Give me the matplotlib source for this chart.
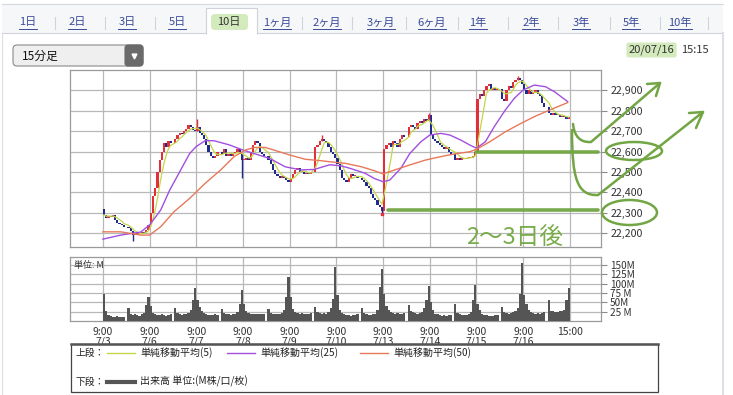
import matplotlib
matplotlib.use("Agg")
import matplotlib.pyplot as plt
import numpy as np
import pandas as pd
from matplotlib.patches import Rectangle, FancyBboxPatch, Ellipse, PathPatch, Polygon
from matplotlib.path import Path

plt.rcParams["font.family"] = ["Noto Sans CJK JP", "DejaVu Sans"]

W, H = 733, 395

# ---- data ----
DAYS = ["7/3", "7/6", "7/7", "7/8", "7/9", "7/10", "7/13", "7/14", "7/15", "7/16"]

# 15-minute closes, 20 bars per day (10 morning, 10 afternoon)
CLOSES_BY_DAY = [
    [22290, 22275, 22285, 22280, 22290, 22265, 22250, 22245, 22240, 22230,
     22225, 22210, 22190, 22195, 22200, 22195, 22205, 22200, 22215, 22240],
    [22300, 22380, 22420, 22500, 22560, 22600, 22640, 22620, 22650, 22640,
     22660, 22680, 22690, 22685, 22700, 22710, 22730, 22720, 22705, 22700],
    [22720, 22690, 22680, 22660, 22630, 22600, 22580, 22570, 22580, 22600,
     22590, 22610, 22580, 22590, 22580, 22595, 22600, 22610, 22590, 22560],
    [22560, 22570, 22560, 22600, 22630, 22650, 22640, 22600, 22590, 22580,
     22560, 22540, 22510, 22490, 22480, 22470, 22480, 22470, 22460, 22450],
    [22470, 22490, 22510, 22520, 22500, 22500, 22490, 22495, 22490, 22500,
     22620, 22630, 22650, 22660, 22650, 22640, 22620, 22600, 22590, 22570],
    [22540, 22510, 22470, 22460, 22450, 22470, 22490, 22480, 22480, 22470,
     22460, 22450, 22430, 22420, 22390, 22370, 22360, 22340, 22330, 22310],
    [22610, 22630, 22640, 22620, 22650, 22640, 22620, 22660, 22680, 22670,
     22720, 22730, 22720, 22710, 22740, 22750, 22740, 22760, 22750, 22780],
    [22680, 22660, 22650, 22640, 22630, 22620, 22610, 22620, 22600, 22590,
     22560, 22570, 22560, 22570, 22565, 22570, 22575, 22570, 22580, 22600],
    [22860, 22880, 22870, 22900, 22920, 22930, 22900, 22910, 22900, 22905,
     22860, 22850, 22900, 22920, 22910, 22940, 22950, 22960, 22950, 22930],
    [22900, 22880, 22900, 22880, 22890, 22900, 22880, 22870, 22840, 22820,
     22790, 22780, 22790, 22780, 22780, 22770, 22775, 22770, 22760, 22770],
]
FIRST_OPEN = 22320

# volume in millions, same bar layout
VOLUME_BY_DAY = [
    [73, 26, 15, 13, 12, 12, 13, 12, 11, 12, 36, 20, 15, 18, 16, 14, 18, 22, 42, 64],
    [40, 22, 18, 16, 15, 20, 15, 14, 16, 18, 36, 22, 18, 17, 18, 20, 22, 30, 55, 89],
    [55, 38, 28, 22, 18, 16, 15, 16, 18, 17, 33, 22, 20, 18, 17, 18, 20, 25, 46, 82],
    [46, 28, 22, 20, 18, 20, 19, 18, 20, 18, 33, 22, 20, 18, 18, 20, 22, 30, 64, 118],
    [64, 33, 25, 22, 20, 22, 20, 18, 20, 22, 38, 25, 22, 20, 22, 20, 25, 35, 60, 145],
    [70, 30, 22, 18, 15, 15, 14, 16, 15, 18, 36, 22, 18, 17, 16, 18, 20, 30, 90, 139],
    [73, 40, 30, 25, 22, 20, 22, 18, 20, 22, 42, 28, 25, 22, 20, 22, 25, 35, 55, 95],
    [50, 30, 20, 18, 15, 14, 15, 14, 16, 15, 46, 22, 18, 16, 15, 15, 18, 25, 55, 97],
    [45, 30, 20, 16, 15, 14, 13, 14, 15, 16, 38, 25, 22, 20, 22, 25, 28, 35, 73, 155],
    [70, 46, 30, 25, 22, 20, 22, 20, 22, 25, 57, 28, 26, 24, 25, 26, 28, 30, 55, 89],
]

# visible wicks (bar number, wick end price)
WICK_BAR = [12, 40, 59, 93, 119, 139, 177]
WICK_TO = [22160, 22760, 22470, 22680, 22300, 22790, 22970]
LOW_MARK_BAR = 119
LOW_MARK_VAL = 22293

# moving averages (slot position, price)
MA25_POS = [0, 8, 17, 21, 26, 30, 35, 39, 42, 46, 50, 57, 63, 68, 75, 82, 89, 95,
            102, 107, 111, 118, 122, 126, 129, 134, 138, 143, 147, 152, 156, 161,
            165, 168, 172, 176, 181, 185, 189, 194, 199, 203, 209]
MA25_VAL = [22170, 22190, 22205, 22240, 22313, 22410, 22510, 22590, 22625, 22653,
            22653, 22632, 22607, 22590, 22566, 22525, 22510, 22512, 22535, 22530,
            22518, 22493, 22468, 22452, 22460, 22518, 22590, 22648, 22681, 22689,
            22681, 22656, 22632, 22616, 22648, 22722, 22804, 22861, 22902, 22926,
            22918, 22894, 22845]
MA50_POS = [0, 8, 17, 21, 26, 32, 39, 46, 53, 59, 64, 68, 73, 77, 84, 91, 98, 102,
            109, 116, 122, 126, 131, 138, 145, 152, 158, 165, 168, 174, 181, 188,
            194, 201, 209]
MA50_VAL = [22206, 22206, 22190, 22190, 22231, 22305, 22370, 22444, 22510, 22575,
            22607, 22620, 22620, 22607, 22583, 22562, 22555, 22550, 22542, 22526,
            22506, 22490, 22509, 22534, 22558, 22575, 22588, 22599, 22611, 22648,
            22697, 22738, 22771, 22804, 22840]

PRICE_TICKS = [22200, 22300, 22400, 22500, 22600, 22700, 22800, 22900]
VOL_TICKS = [25, 50, 75, 100, 125, 150]
VOL_LABELS = ["25 M", "50M", "75 M", "100M", "125M", "150M"]

TABS = ["1日", "2日", "3日", "5日", "10日", "1ヶ月", "2ヶ月", "3ヶ月", "6ヶ月",
        "1年", "2年", "3年", "5年", "10年"]
TAB_X = [28, 77, 127, 177, 229, 277, 327, 381, 432, 478, 531, 581, 631, 680]
TAB_SEP_X = [55, 105, 155, 302, 352, 406, 458, 508, 558, 610, 660, 708]
SELECTED_TAB = "10日"

UP = "#e2303a"
DOWN = "#1f2b8e"
MA5_C = "#c4d64a"
MA25_C = "#a24fe0"
MA50_C = "#e8785a"
VOL_C = "#555555"
GRID_C = "#b8b8b8"
ANNOT_C = "#72a544"

SLOTS_PER_DAY = 21  # 20 bars + lunch gap

closes = np.array(sum(CLOSES_BY_DAY, []), dtype=float)
opens = np.concatenate([[FIRST_OPEN], closes[:-1]])
volumes = np.array(sum(VOLUME_BY_DAY, []), dtype=float)
pos = np.array([SLOTS_PER_DAY * d + j + (1 if j >= 10 else 0) + 0.5
                for d in range(len(DAYS)) for j in range(20)])
day_x = [SLOTS_PER_DAY * d for d in range(len(DAYS) + 1)]
XLIM = (-14.8, 224)


def px_axes(fig, left, top, right, bottom, **kw):
    return fig.add_axes([left / W, 1 - bottom / H, (right - left) / W, (bottom - top) / H], **kw)


fig = plt.figure(figsize=(W / 100, H / 100), dpi=100)
fig.patch.set_facecolor("white")

# ---- background (tabs, panel) ----
bg = fig.add_axes([0, 0, 1, 1], zorder=0)
bg.set_xlim(0, W)
bg.set_ylim(H, 0)
bg.axis("off")
bg.add_patch(Rectangle((2, 4), 721, 29, fc="#f6f7f9", ec="none"))
bg.plot([2, 723], [4, 4], color="#d5d8dd", lw=0.8)
bg.plot([2, 206], [33, 33], color="#cfd2d8", lw=0.8)
bg.plot([257, 723], [33, 33], color="#cfd2d8", lw=0.8)
bg.plot([2, 2], [33, H], color="#dcdfe3", lw=0.8)
bg.plot([723, 723], [33, H], color="#dcdfe3", lw=1.5)
bg.add_patch(Polygon([(206, 33.5), (206, 8), (257, 8), (257, 33.5)], closed=False,
                     fc="white", ec="#cfd2d8", lw=0.8))
bg.add_patch(FancyBboxPatch((211, 14), 37, 16, boxstyle="round,pad=0,rounding_size=4",
                            fc="#d3eabd", ec="none"))
for sx in TAB_SEP_X:
    bg.plot([sx, sx], [17, 29], color="#d0d3d8", lw=0.8)

renderer = fig.canvas.get_renderer()
for label, tx in zip(TABS, TAB_X):
    if label == SELECTED_TAB:
        bg.text(tx, 22.5, label, ha="center", va="center", fontsize=8, color="#333333")
        continue
    t = bg.text(tx, 22.5, label, ha="center", va="center", fontsize=8, color="#3a4a9a")
    bb = t.get_window_extent(renderer)
    bg.plot([bb.x0, bb.x1], [28.5, 28.5], color="#3a4a9a", lw=0.7)

# dropdown
bg.add_patch(FancyBboxPatch((13, 45), 130, 21, boxstyle="round,pad=0,rounding_size=4",
                            fc="#efefef", ec="#8a8a8a", lw=0.8))
bg.add_patch(FancyBboxPatch((125, 45), 18, 21, boxstyle="round,pad=0,rounding_size=3",
                            fc="#6a6a6a", ec="#6a6a6a", lw=0.8))
bg.plot([134], [55.5], marker="v", color="white", ms=3.5)
bg.text(22, 56, "15分足", ha="left", va="center", fontsize=8.5, color="#111111")

# date stamp
bg.text(651.5, 50, "20/07/16", ha="center", va="center", fontsize=8, color="#333333",
        bbox=dict(boxstyle="round,pad=0.2", fc="#d3eabd", ec="none"))
bg.text(681, 50, "15:15", ha="left", va="center", fontsize=8, color="#333333")

# ---- price panel ----
ax = px_axes(fig, 70, 70, 601, 246.5, zorder=2)
ax.set_xlim(*XLIM)
ax.set_ylim(22134, 23000)
ax.set_xticks(day_x)
ax.tick_params(axis="x", length=0, labelbottom=False)
ax.set_yticks(PRICE_TICKS)
ax.set_yticklabels([f"{v:,}" for v in PRICE_TICKS])
ax.yaxis.tick_right()
ax.tick_params(axis="y", length=4.5, width=0.8, color="#8a8a8a", labelsize=7.7,
               labelcolor="#333333", pad=2.5)
ax.grid(True, color=GRID_C, lw=0.9)
ax.set_axisbelow(True)
for s in ax.spines.values():
    s.set_color("#9a9a9a")
    s.set_linewidth(0.9)

up = closes >= opens
colors = np.where(up, UP, DOWN)
bottoms = np.minimum(opens, closes)
heights = np.maximum(np.abs(closes - opens), 5)
ax.bar(pos, heights, bottom=bottoms, width=1.0, color=colors, linewidth=0, zorder=3)
for b, v in zip(WICK_BAR, WICK_TO):
    lo, hi = sorted([v, closes[b] if abs(v - closes[b]) > abs(v - opens[b]) else opens[b]])
    ax.vlines(pos[b], lo, hi, color=colors[b], lw=1.0, zorder=3)
ax.scatter([pos[LOW_MARK_BAR]], [LOW_MARK_VAL], marker="s", s=4, color=UP, zorder=4)

ma5 = pd.Series(closes).rolling(5, min_periods=1).mean()
ax.plot(pos, ma5, color=MA5_C, lw=0.9, zorder=4)
ax.plot(MA25_POS, MA25_VAL, color=MA25_C, lw=1.0, zorder=4)
ax.plot(MA50_POS, MA50_VAL, color=MA50_C, lw=1.0, zorder=4)

# hand-drawn support lines
ax.plot([167.7, 222.6], [22600, 22600], color=ANNOT_C, lw=2.6, zorder=6,
        clip_on=False, solid_capstyle="round", alpha=0.95)
ax.plot([128.2, 222.6], [22312, 22312], color=ANNOT_C, lw=2.6, zorder=6,
        clip_on=False, solid_capstyle="round", alpha=0.95)

# ---- volume panel ----
vx = px_axes(fig, 70, 257, 601, 321, zorder=2)
vx.set_xlim(*XLIM)
vx.set_ylim(0, 171.5)
vx.bar(pos, volumes, width=1.0, color=VOL_C, linewidth=0, zorder=3)
vx.set_yticks(VOL_TICKS)
vx.set_yticklabels(VOL_LABELS)
vx.yaxis.tick_right()
vx.tick_params(axis="y", length=4, width=0.8, color="#8a8a8a", labelsize=7.2,
               labelcolor="#333333", pad=2.5)
vx.set_xticks(day_x)
vx.set_xticklabels([f"9:00\n{d}" for d in DAYS] + ["15:00\n"])
vx.tick_params(axis="x", length=0, labelsize=7.5, labelcolor="#333333", pad=4)
for lab in vx.get_xticklabels():
    lab.set_linespacing(1.05)
vx.grid(True, color=GRID_C, lw=0.9)
vx.set_axisbelow(True)
for s in vx.spines.values():
    s.set_color("#9a9a9a")
    s.set_linewidth(0.9)
vx.text(0.007, 0.86, "単位: M", transform=vx.transAxes, fontsize=6.5, color="#333333",
        ha="left", va="center", zorder=5)

# ---- overlay: legend box, hand-drawn notes ----
ov = fig.add_axes([0, 0, 1, 1], zorder=10)
ov.set_xlim(0, W)
ov.set_ylim(H, 0)
ov.axis("off")
ov.patch.set_alpha(0)

ov.add_patch(Rectangle((71, 344), 587, 48, fc="white", ec="#444444", lw=0.9))
ov.plot([71, 658], [344, 344], color="#555555", lw=1.8)
ov.text(76, 352.5, "上段：", fontsize=7, ha="left", va="center", color="#222222")
ov.text(76, 381.5, "下段：", fontsize=7, ha="left", va="center", color="#222222")
legend_items = [(107, MA5_C, "単純移動平均(5)"), (227, MA25_C, "単純移動平均(25)"),
                (360, MA50_C, "単純移動平均(50)")]
for lx, c, txt in legend_items:
    ov.plot([lx, lx + 28], [352.5, 352.5], color=c, lw=1.0)
    ov.text(lx + 33, 352.5, txt, fontsize=7.2, ha="left", va="center", color="#222222")
ov.plot([107, 135], [381.5, 381.5], color=VOL_C, lw=3)
ov.text(140, 381.5, "出来高 単位:(M株/口/枚)", fontsize=7.2, ha="left", va="center",
        color="#222222")

ov.add_patch(Ellipse((634, 151), 56, 18, fc="none", ec=ANNOT_C, lw=1.8))
ov.add_patch(Ellipse((629.5, 212.5), 55, 25, fc="none", ec=ANNOT_C, lw=1.8))

stroke_a = Path([(573, 124), (575, 143), (591, 142), (660, 83)],
                [Path.MOVETO, Path.CURVE3, Path.CURVE3, Path.LINETO])
stroke_b = Path([(572, 130), (572, 178), (577, 196), (598, 195), (703, 112)],
                [Path.MOVETO, Path.CURVE4, Path.CURVE4, Path.CURVE4, Path.LINETO])
for p in (stroke_a, stroke_b):
    ov.add_patch(PathPatch(p, fc="none", ec=ANNOT_C, lw=1.8, capstyle="round"))
for tip, a1, a2 in [((660, 83), (647, 84), (656, 96)), ((703, 112), (689, 113), (696, 128))]:
    ov.plot([a1[0], tip[0], a2[0]], [a1[1], tip[1], a2[1]], color=ANNOT_C, lw=1.8,
            solid_capstyle="round", solid_joinstyle="round")

ov.text(515, 238, "2〜3日後", fontsize=17, ha="center", va="center", color="#78ab4a")

fig.savefig("out.png", dpi=100, facecolor="white")
